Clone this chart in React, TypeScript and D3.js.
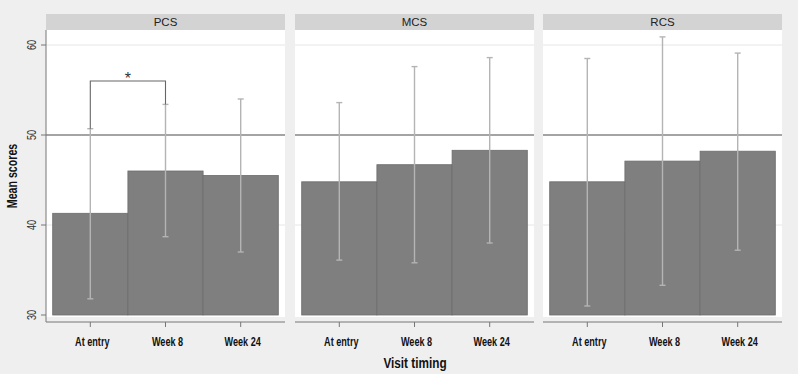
import * as d3 from "d3";

const visits = ["At entry", "Week 8", "Week 24"];
const panelNames = ["PCS", "MCS", "RCS"];

// mean score and interval ends per visit
const pcsMean = [41.3, 46.0, 45.5];
const pcsLow = [31.8, 38.7, 37.0];
const pcsHigh = [50.7, 53.4, 54.0];

const mcsMean = [44.8, 46.7, 48.3];
const mcsLow = [36.1, 35.8, 38.0];
const mcsHigh = [53.6, 57.6, 58.6];

const rcsMean = [44.8, 47.1, 48.2];
const rcsLow = [31.0, 33.3, 37.2];
const rcsHigh = [58.5, 60.9, 59.1];

const yTicks = [30, 40, 50, 60];
const refLine = 50;
const bracketLevel = 56;

const W = 798;
const H = 374;
const panelLefts = [46, 295, 543];
const panelW = 239;
const stripTop = 14;
const stripBottom = 30;
const plotBottom = 317;
const axisY = 322;
const inset = 6.7;

const y = d3.scaleLinear().domain([30, 60]).range([315, 45]);

const series = [
  { mean: pcsMean, low: pcsLow, high: pcsHigh },
  { mean: mcsMean, low: mcsLow, high: mcsHigh },
  { mean: rcsMean, low: rcsLow, high: rcsHigh },
];

const font = "'Liberation Sans', Arial, sans-serif";
// narrow look for axis text
const squeeze = 0.76;

export default function App() {
  return (
    <svg
      width={W}
      height={H}
      style={{ position: "absolute", left: 0, top: 0, background: "#efefef" }}
    >
      <rect width={W} height={H} fill="#efefef" />
      {panelNames.map((name, p) => {
        const left = panelLefts[p];
        const right = left + panelW;
        const x = d3.scaleBand().domain(visits).range([left + inset, right - inset]).padding(0);
        const s = series[p];
        return (
          <g key={name}>
            <rect x={left} y={stripTop} width={panelW} height={stripBottom - stripTop} fill="#d3d3d3" />
            <text
              x={left + panelW / 2}
              y={(stripTop + stripBottom) / 2 + 4}
              textAnchor="middle"
              fontFamily={font}
              fontSize={11.5}
              fill="#222"
            >
              {name}
            </text>
            <rect x={left} y={stripBottom} width={panelW} height={plotBottom - stripBottom} fill="#fff" />
            {[40, 60].map((t) => (
              <line key={t} x1={left} x2={right} y1={y(t)} y2={y(t)} stroke="#e6e6e6" strokeWidth={1} />
            ))}
            {visits.map((v, i) => (
              <rect
                key={v}
                x={x(v)!}
                y={y(s.mean[i])}
                width={x.bandwidth()}
                height={y(30) - y(s.mean[i])}
                fill="#7f7f7f"
                stroke="#6c6c6c"
                strokeWidth={0.8}
              />
            ))}
            <line x1={left} x2={right} y1={y(refLine)} y2={y(refLine)} stroke="#4a4a4a" strokeWidth={1.2} />
            {visits.map((v, i) => {
              const cx = x(v)! + x.bandwidth() / 2;
              return (
                <g key={v} stroke="#b4b4b4" strokeWidth={1.4}>
                  <line x1={cx} x2={cx} y1={y(s.high[i])} y2={y(s.low[i])} />
                  <line x1={cx - 3} x2={cx + 3} y1={y(s.high[i])} y2={y(s.high[i])} />
                  <line x1={cx - 3} x2={cx + 3} y1={y(s.low[i])} y2={y(s.low[i])} />
                </g>
              );
            })}
            <line x1={left} x2={right} y1={axisY} y2={axisY} stroke="#777" strokeWidth={1} />
            {visits.map((v) => {
              const cx = x(v)! + x.bandwidth() / 2;
              return (
                <g key={v}>
                  <line x1={cx} x2={cx} y1={axisY} y2={axisY + 5} stroke="#777" strokeWidth={1} />
                  <text
                    transform={`translate(${cx + 2},346) scale(${squeeze},1)`}
                    textAnchor="middle"
                    fontFamily={font}
                    fontWeight="bold"
                    fontSize={12}
                    fill="#111"
                  >
                    {v}
                  </text>
                </g>
              );
            })}
            {p === 0 && (() => {
              const x0 = x(visits[0])! + x.bandwidth() / 2;
              const x1 = x(visits[1])! + x.bandwidth() / 2;
              return (
                <g>
                  <path
                    d={`M${x0},${y(s.high[0])}V${y(bracketLevel)}H${x1}V${y(s.high[1])}`}
                    fill="none"
                    stroke="#666"
                    strokeWidth={1.1}
                  />
                  <text
                    x={(x0 + x1) / 2}
                    y={y(bracketLevel) + 3}
                    textAnchor="middle"
                    fontFamily={font}
                    fontSize={16}
                    fill="#333"
                  >
                    *
                  </text>
                </g>
              );
            })()}
          </g>
        );
      })}
      {/* y axis on the first panel */}
      <line x1={46} x2={46} y1={stripBottom} y2={axisY} stroke="#777" strokeWidth={1} />
      {yTicks.map((t) => (
        <g key={t}>
          <line x1={41} x2={46} y1={y(t)} y2={y(t)} stroke="#777" strokeWidth={1} />
          <text
            transform={`translate(36,${y(t)}) rotate(-90) scale(${squeeze},1)`}
            textAnchor="middle"
            fontFamily={font}
            fontSize={12}
            fill="#333"
          >
            {t}
          </text>
        </g>
      ))}
      <text
        transform={`translate(17,176) rotate(-90) scale(${squeeze},1)`}
        textAnchor="middle"
        fontFamily={font}
        fontWeight="bold"
        fontSize={14}
        fill="#111"
      >
        Mean scores
      </text>
      <text
        transform={`translate(415,368) scale(${squeeze},1)`}
        textAnchor="middle"
        fontFamily={font}
        fontWeight="bold"
        fontSize={15.5}
        fill="#111"
      >
        Visit timing
      </text>
    </svg>
  );
}
